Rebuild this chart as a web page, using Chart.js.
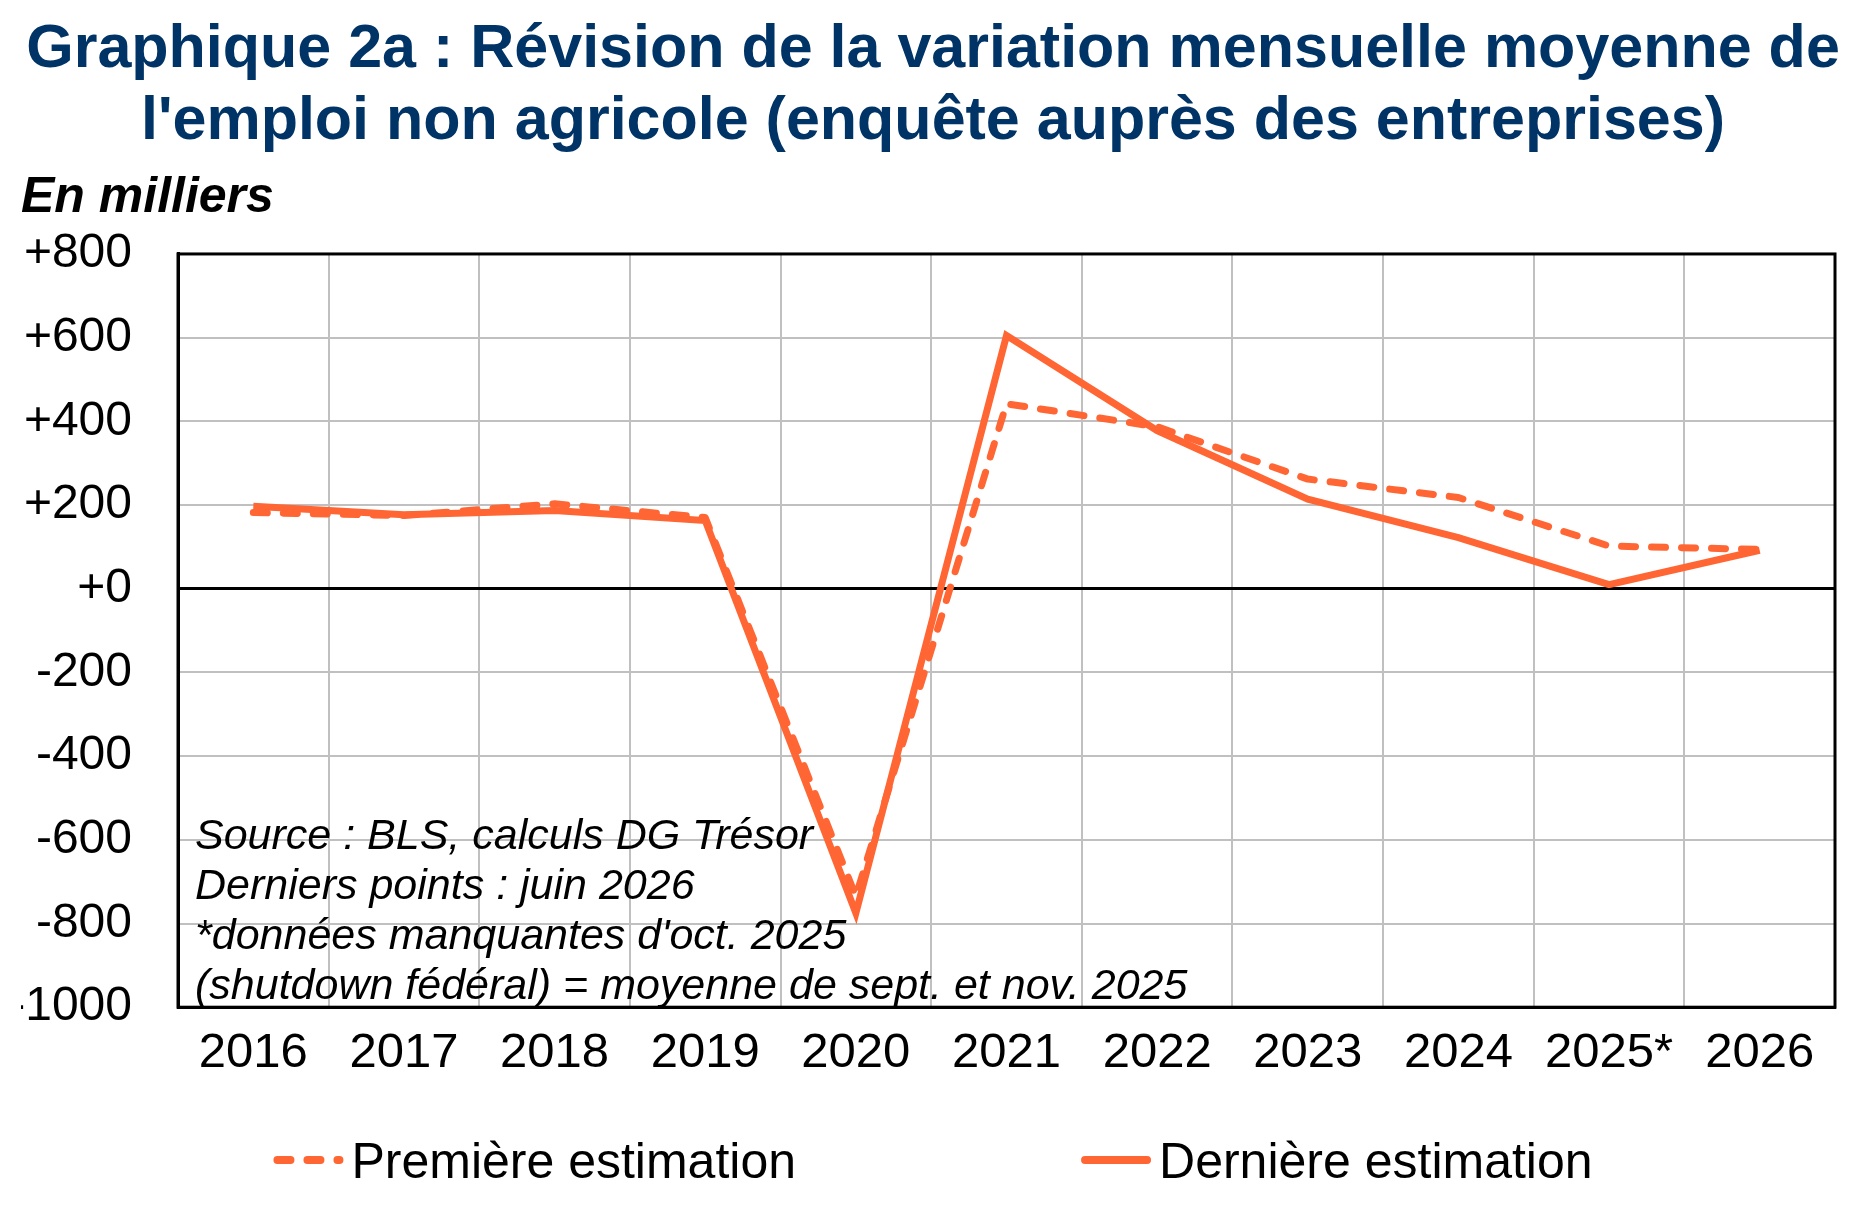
<!DOCTYPE html>
<html lang="fr">
<head>
<meta charset="utf-8">
<title>Graphique 2a</title>
<script src="https://cdn.jsdelivr.net/npm/chart.js@4.4.1/dist/chart.umd.min.js"></script>
<style>
  html, body { margin: 0; padding: 0; background: #fff; }
  #wrap { width: 1866px; height: 1214px; }
</style>
</head>
<body>
<div id="wrap"><canvas id="revChart" width="1866" height="1214"></canvas></div>
<script>
/* =========================
   DATA
========================= */
const years = ['2016', '2017', '2018', '2019', '2020', '2021', '2022', '2023', '2024', '2025*', '2026'];

// moyenne mensuelle, en milliers
const premiere = [182, 175, 203, 170, -735, 442, 387, 262, 218, 102, 94];
const derniere = [197, 177, 187, 163, -775, 605, 378, 214, 122, 10, 92];

const yTicks = [-1000, -800, -600, -400, -200, 0, 200, 400, 600, 800];

const titleLines = [
  'Graphique 2a : Révision de la variation mensuelle moyenne de',
  "l'emploi non agricole (enquête auprès des entreprises)"
];
const unitLabel = 'En milliers';
const seriesNames = ['Première estimation', 'Dernière estimation'];
const noteLines = [
  'Source : BLS, calculs DG Trésor',
  'Derniers points : juin 2026',
  "*données manquantes d'oct. 2025",
  '(shutdown fédéral) = moyenne de sept. et nov. 2025'
];

const ORANGE = '#ff6633';
const FONT = '"Liberation Sans", Arial, sans-serif';

/* =========================
   PLUGINS
========================= */
// black frame round the plot area
const framePlugin = {
  id: 'frame',
  beforeDatasetsDraw(chart) {
    const { ctx, chartArea: a } = chart;
    ctx.save();
    ctx.strokeStyle = '#000';
    ctx.lineWidth = 3;
    ctx.strokeRect(a.left, a.top, a.right - a.left, a.bottom - a.top);
    ctx.restore();
  }
};

// source notes, bottom left inside the plot
const notePlugin = {
  id: 'notes',
  afterDatasetsDraw(chart) {
    const { ctx, chartArea: a } = chart;
    ctx.save();
    ctx.font = 'italic 43px ' + FONT;
    ctx.fillStyle = '#000';
    ctx.textBaseline = 'alphabetic';
    noteLines.forEach((line, i) => {
      ctx.fillText(line, a.left + 17, a.bottom - 158 + i * 50);
    });
    ctx.restore();
  }
};

// legend under the axis, two items far apart
const legendPlugin = {
  id: 'bottomLegend',
  afterDraw(chart) {
    const ctx = chart.ctx;
    ctx.save();
    ctx.font = '50px ' + FONT;
    const mark = 70, gap = 8, spacing = 285;
    const items = chart.data.datasets.map(ds => ({ ds, w: ctx.measureText(ds.label).width }));
    const total = items.reduce((s, it) => s + mark + gap + it.w, 0) + spacing * (items.length - 1);
    let x = (chart.width - total) / 2;
    const y = chart.height - 54;

    items.forEach(it => {
      ctx.strokeStyle = it.ds.borderColor;
      ctx.lineWidth = 8;
      ctx.lineCap = 'round';
      ctx.setLineDash(it.ds.borderDash ? [13, 17] : []);
      ctx.beginPath();
      ctx.moveTo(x + 4, y);
      ctx.lineTo(x + mark - 4, y);
      ctx.stroke();
      ctx.setLineDash([]);

      ctx.fillStyle = '#000';
      ctx.textBaseline = 'alphabetic';
      ctx.fillText(it.ds.label, x + mark + gap, y + 18);
      x += mark + gap + it.w + spacing;
    });
    ctx.restore();
  }
};

/* =========================
   CHART
========================= */
const ctx = document.getElementById('revChart').getContext('2d');

new Chart(ctx, {
  type: 'line',
  data: {
    labels: years,
    datasets: [
      {
        label: seriesNames[0],
        data: premiere,
        borderColor: ORANGE,
        borderWidth: 7,
        borderDash: [14, 16],
        borderCapStyle: 'round',
        borderJoinStyle: 'round',
        pointRadius: 0,
        tension: 0,
        fill: false
      },
      {
        label: seriesNames[1],
        data: derniere,
        borderColor: ORANGE,
        borderWidth: 7,
        borderJoinStyle: 'miter',
        pointRadius: 0,
        tension: 0,
        fill: false
      }
    ]
  },
  options: {
    responsive: false,
    animation: false,
    devicePixelRatio: 1,
    layout: {
      padding: { left: 21, right: 21, top: 0, bottom: 114 }
    },
    plugins: {
      legend: { display: false },
      tooltip: { enabled: false },
      title: {
        display: true,
        text: titleLines,
        color: '#003366',
        font: { family: FONT, size: 61, weight: 'bold', lineHeight: 1.18 },
        padding: { top: 14, bottom: 0 }
      },
      subtitle: {
        display: true,
        text: unitLabel,
        align: 'start',
        color: '#000',
        font: { family: FONT, size: 50, weight: 'bold', style: 'italic', lineHeight: 1.2 },
        padding: { top: 10.5, bottom: 25.5 }
      }
    },
    scales: {
      x: {
        offset: true,
        grid: {
          offset: true,
          color: '#c0c0c0',
          lineWidth: 2,
          drawTicks: false
        },
        border: { display: true, color: '#000', width: 3 },
        ticks: {
          color: '#000',
          padding: 17,
          maxRotation: 0,
          autoSkip: false,
          font: { family: FONT, size: 49 }
        }
      },
      y: {
        min: -1000,
        max: 800,
        afterBuildTicks: (axis) => {
          axis.ticks = yTicks.map(v => ({ value: v }));
        },
        afterFit: (axis) => {
          axis.width = 157;
        },
        grid: {
          color: (c) => c.tick && c.tick.value === 0 ? '#000' : '#c0c0c0',
          lineWidth: (c) => c.tick && c.tick.value === 0 ? 3 : 2,
          drawTicks: false
        },
        border: { display: true, color: '#000', width: 3 },
        ticks: {
          color: '#000',
          padding: 46,
          font: { family: FONT, size: 48 },
          callback: (value) => value >= 0 ? '+' + value : String(value)
        }
      },
      // empty right axis, only keeps the plot off the right edge
      yRight: {
        position: 'right',
        grid: { display: false },
        border: { display: false },
        ticks: { display: false },
        afterFit: (axis) => {
          axis.width = 10;
        }
      }
    }
  },
  plugins: [framePlugin, notePlugin, legendPlugin]
});
</script>
</body>
</html>
